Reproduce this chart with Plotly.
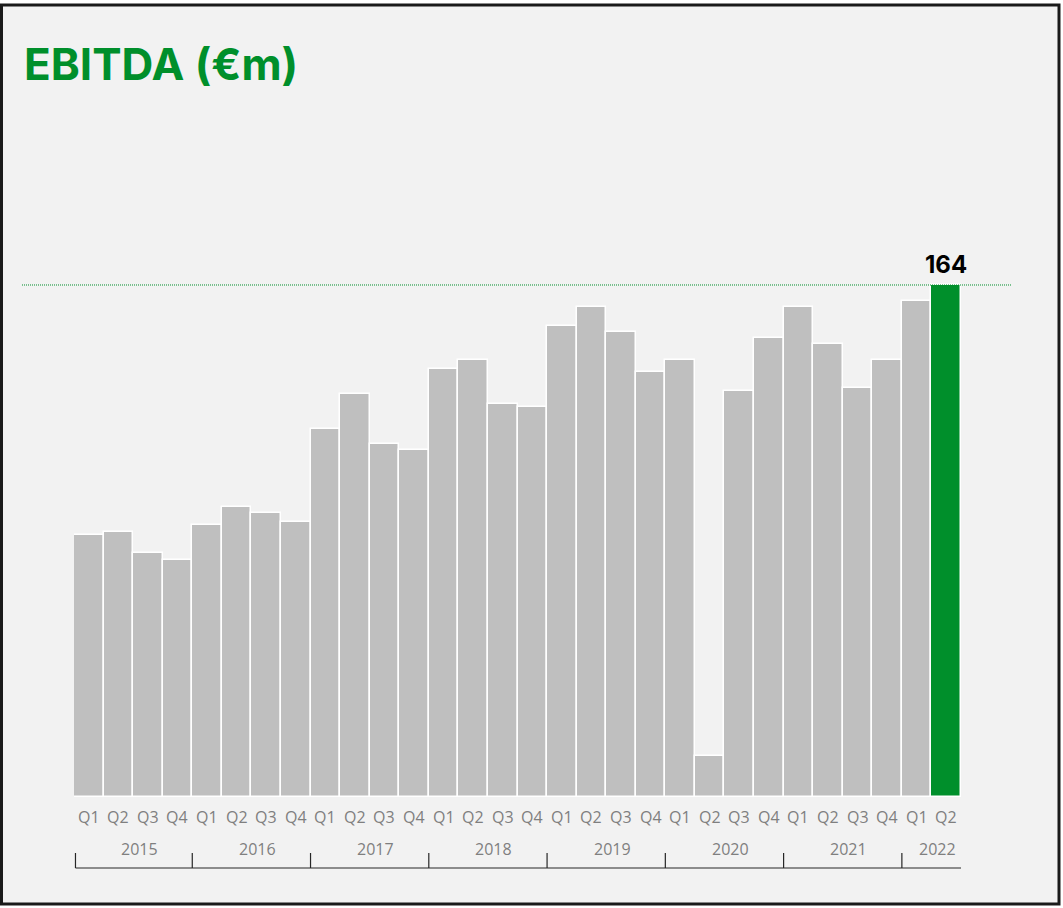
import plotly.graph_objects as go

years = ["2015", "2016", "2017", "2018", "2019", "2020", "2021", "2022"]
quarters = ["Q1", "Q2", "Q3", "Q4"] * 7 + ["Q1", "Q2"]
ebitda = [84, 85, 78, 76, 87, 93, 91, 88,
          118, 129, 113, 111, 137, 140, 126, 125,
          151, 157, 149, 136, 140, 13, 130, 147,
          157, 145, 131, 140, 159, 164]
year_quarter_counts = [4, 4, 4, 4, 4, 4, 4, 2]

GREEN = "#008f2b"
GREY = "#bfbfbf"
BG = "#f2f2f2"

n = len(ebitda)
xs = list(range(n))
colors = [GREY] * (n - 1) + [GREEN]

fig = go.Figure()
fig.add_trace(go.Bar(
    x=xs, y=ebitda,
    marker=dict(color=colors, line=dict(color="white", width=1.5)),
    hoverinfo="y",
))

W, H = 1063, 908
L, R, T, B = 74, 102, 120, 111
pw = W - L - R
ph = H - T - B

def px_x(p):
    return (p - L) / pw

def px_y(p):
    return (H - B - p) / ph

shapes = []
# background panel with border
shapes.append(dict(type="rect", xref="paper", yref="paper",
                   x0=px_x(1.5), x1=px_x(1059), y0=px_y(904), y1=px_y(5),
                   fillcolor=BG, line=dict(color="#1a1a1a", width=3), layer="below"))
# reference dotted line at latest value
shapes.append(dict(type="line", xref="paper", yref="y",
                   x0=px_x(22), x1=px_x(1012), y0=ebitda[-1], y1=ebitda[-1],
                   line=dict(color=GREEN, width=1, dash="1px,1px")))
# year bracket axis
yb = px_y(868)
yt = px_y(853)
shapes.append(dict(type="line", xref="x", yref="paper", x0=-0.45, x1=n - 0.5,
                   y0=yb, y1=yb, line=dict(color="#262626", width=1.2)))
bounds = [-0.45]
acc = 0
for c in year_quarter_counts[:-1]:
    acc += c
    bounds.append(acc - 0.5)
for b in bounds:
    shapes.append(dict(type="line", xref="x", yref="paper", x0=b, x1=b,
                       y0=yb, y1=yt, line=dict(color="#262626", width=1.2)))

annotations = []
acc = 0
for yr, c in zip(years, year_quarter_counts):
    center = acc + (c - 1) / 2
    acc += c
    annotations.append(dict(x=center, y=px_y(849), xref="x", yref="paper",
                            text=yr, showarrow=False, xshift=6, yanchor="middle",
                            font=dict(family="Open Sans", size=16, color="#7f7f7f")))
for i, q in enumerate(quarters):
    annotations.append(dict(x=i, y=px_y(817), xref="x", yref="paper",
                            text=q, showarrow=False, yanchor="middle",
                            font=dict(family="Open Sans", size=16, color="#7f7f7f")))
annotations.append(dict(x=n - 1, y=ebitda[-1], xref="x", yref="y",
                        text="<b>164</b>", showarrow=False, yanchor="bottom", yshift=4,
                        font=dict(family="Inter", size=24, color="#000000")))
annotations.append(dict(x=px_x(22), y=px_y(64), xref="paper", yref="paper",
                        text="<b>EBITDA (€m)</b>", showarrow=False,
                        xanchor="left", yanchor="middle",
                        font=dict(family="Inter", size=44, color=GREEN)))

fig.update_layout(
    width=W, height=H,
    margin=dict(l=L, r=R, t=T, b=B),
    paper_bgcolor="white",
    plot_bgcolor=BG,
    bargap=0,
    showlegend=False,
    shapes=shapes,
    annotations=annotations,
    xaxis=dict(range=[-0.5, n - 0.5], showticklabels=False,
               showgrid=False, zeroline=False, showline=False, ticks="",
               fixedrange=True),
    yaxis=dict(range=[0, ph / 3.122], showgrid=False, zeroline=False,
               showticklabels=False, showline=False, ticks="", fixedrange=True),
)

fig.write_html("out.html", config={"displayModeBar": False},
               post_script="document.body.style.margin='0';")
